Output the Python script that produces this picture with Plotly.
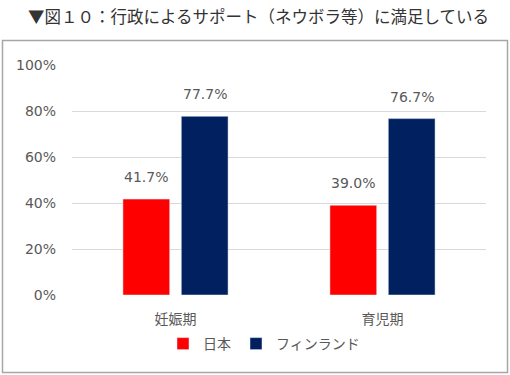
import plotly.graph_objects as go

categories = ["妊娠期", "育児期"]
japan = [0.417, 0.390]
finland = [0.777, 0.767]
series_names = ["日本", "フィンランド"]
tick_vals = [0, 0.2, 0.4, 0.6, 0.8, 1.0]
tick_text = ["0%", "20%", "40%", "60%", "80%", "100%"]
title_text = "▼図１０：行政によるサポート（ネウボラ等）に満足している"

FONT = "DejaVu Sans, Noto Sans CJK JP"
CJK = "Noto Sans CJK JP"
GREY = "#595959"

fig = go.Figure()
fig.add_trace(go.Bar(x=categories, y=japan, name=series_names[0], marker_color="#FF0000"))
fig.add_trace(go.Bar(x=categories, y=finland, name=series_names[1], marker_color="#002060"))

for vals, shift in ((japan, -29.2), (finland, 29.2)):
    for c, v in zip(categories, vals):
        fig.add_annotation(x=c, y=v, text=f"{v*100:.1f}%", showarrow=False,
                           xshift=shift, yshift=12, yanchor="bottom",
                           font=dict(family=FONT, size=14, color=GREY))

L, R, T, B = 72, 24, 65, 80
W, H = 510, 375
pw, ph = W - L - R, H - T - B
def px(x): return (x - L) / pw
def py(y): return (H - B - y) / ph

fig.add_shape(type="rect", xref="paper", yref="paper",
              x0=px(2.5), x1=px(507.5), y0=py(372.5), y1=py(40.5),
              line=dict(color="#A6A6A6", width=1.5), layer="below")

fig.add_annotation(xref="paper", yref="paper", x=px(258), y=py(16), text=title_text,
                   showarrow=False, xanchor="center", yanchor="middle",
                   font=dict(family=CJK, size=16.5, color="#333333"))

fig.update_layout(
    width=W, height=H, margin=dict(l=L, r=R, t=T, b=B),
    paper_bgcolor="white", plot_bgcolor="white",
    barmode="group", bargap=0.436, bargroupgap=0.199,
    font=dict(family=FONT, size=14, color=GREY),
    showlegend=True,
    legend=dict(orientation="h", x=px(264), xanchor="center", y=py(344), yanchor="middle",
                font=dict(family=CJK, size=14, color=GREY), itemwidth=30,
                traceorder="normal"),
)
fig.update_xaxes(showgrid=False, showline=False, ticks="", ticklabelstandoff=14,
                 tickfont=dict(family=CJK, size=14, color=GREY))
fig.update_yaxes(range=[0, 1.0001], tickvals=tick_vals, ticktext=tick_text,
                 showgrid=True, gridcolor="#D9D9D9", gridwidth=1, zeroline=False,
                 showline=False, ticks="", ticklabelstandoff=15,
                 tickfont=dict(family=FONT, size=14, color=GREY))

fig.write_html("out.html", config={"displayModeBar": False},
               post_script="document.body.style.margin='0';")
